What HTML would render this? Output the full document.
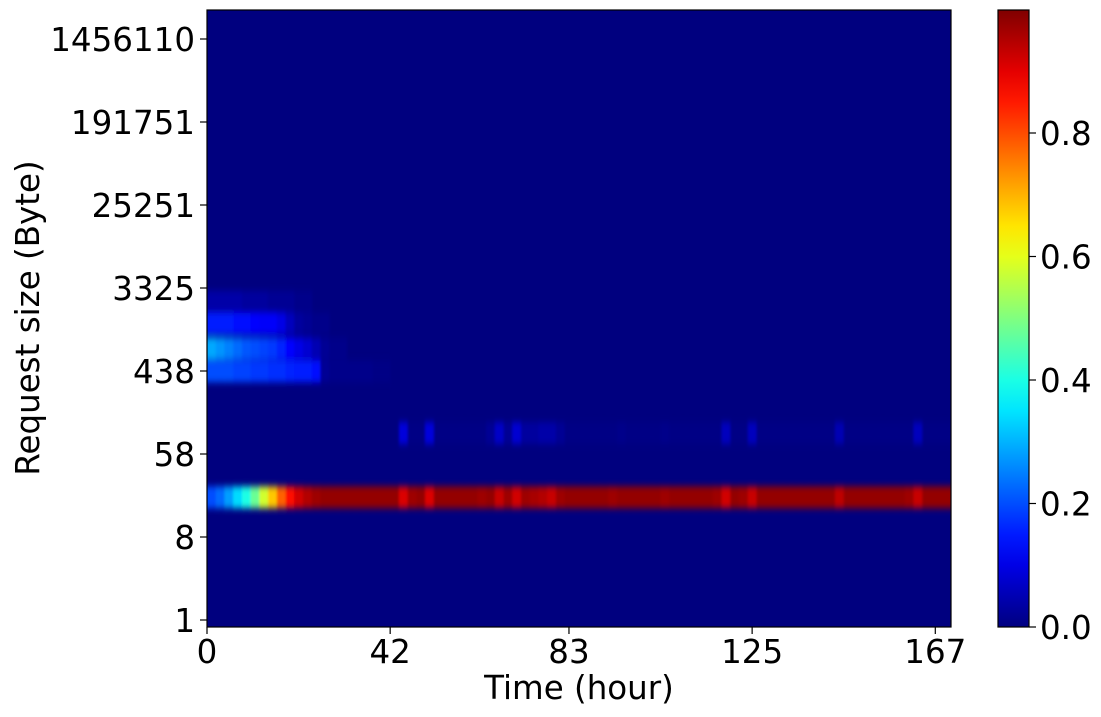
<!DOCTYPE html>
<html><head><meta charset="utf-8"><style>
html,body{margin:0;padding:0;background:#fff;}
svg{display:block;font-family:"DejaVu Sans","Liberation Sans",sans-serif;}
</style></head><body>
<svg id="chart" width="1101" height="717" viewBox="0 0 1101 717" xmlns="http://www.w3.org/2000/svg">
<defs>
<clipPath id="plotclip"><rect x="207" y="10" width="744" height="617"/></clipPath>
<filter id="blur" x="-10%" y="-10%" width="120%" height="120%"><feGaussianBlur stdDeviation="1.2 3.5"/></filter>
<linearGradient id="cbgrad" x1="0" y1="1" x2="0" y2="0"></linearGradient>
</defs>
<rect x="207" y="10" width="744" height="617" fill="rgb(0,0,127)"/>
<g id="cells" clip-path="url(#plotclip)"><g id="cellsInner" filter="url(#blur)"></g></g>
<rect x="207" y="10" width="744" height="617" fill="none" stroke="#000" stroke-width="1.2"/>
<g id="xaxis"></g><g id="yaxis"></g>
<text x="579" y="699" font-size="32.5" text-anchor="middle">Time (hour)</text>
<text transform="translate(39,318) rotate(-90)" font-size="32.5" text-anchor="middle">Request size (Byte)</text>
<rect x="998" y="10" width="31" height="617" fill="url(#cbgrad)"/>
<rect x="998" y="10" width="31" height="617" fill="none" stroke="#000" stroke-width="1.2"/>
<g id="cbaxis"></g>
</svg>
<script>
// ---- data ----
const timeBins = [0,2,4,6,8,10,12,14,16,18,20,22,24,26,28,30,32,34,36,38,40,42,44,46,48,50,52,54,56,58,60,62,64,66,68,70,72,74,76,78,80,82,84,86,88,90,92,94,96,98,100,102,104,106,108,110,112,114,116,118,120,122,124,126,128,130,132,134,136,138,140,142,144,146,148,150,152,154,156,158,160,162,164,166,168,170];
const sizeRows = [20, 96, 434, 757, 1390, 2370];
const row20 = [0.2,0.23,0.28,0.34,0.4,0.48,0.58,0.68,0.78,0.86,0.92,0.95,0.97,0.98,0.98,0.98,0.98,0.98,0.98,0.98,0.98,0.98,0.91,0.97,0.98,0.91,0.98,0.98,0.98,0.98,0.98,0.97,0.98,0.93,0.97,0.92,0.97,0.96,0.95,0.93,0.97,0.98,0.98,0.98,0.98,0.98,0.97,0.98,0.98,0.98,0.98,0.98,0.97,0.98,0.98,0.98,0.98,0.98,0.97,0.92,0.98,0.97,0.93,0.98,0.98,0.98,0.98,0.98,0.98,0.98,0.98,0.98,0.94,0.98,0.98,0.98,0.98,0.98,0.98,0.98,0.97,0.93,0.98,0.98,0.98,0.98];
const row96 = [0,0,0,0,0,0,0,0,0,0,0,0,0,0,0,0,0,0,0,0,0,0,0.09,0.005,0.005,0.09,0.005,0.005,0.005,0.005,0.005,0.005,0.02,0.07,0.02,0.08,0.03,0.03,0.04,0.04,0.02,0.005,0.005,0.005,0.005,0.005,0.005,0.01,0.005,0.005,0.005,0.005,0.01,0.005,0.005,0.005,0.005,0.005,0.005,0.06,0.005,0.005,0.06,0.005,0.005,0.005,0.005,0.005,0.005,0.005,0.005,0.005,0.05,0.005,0.005,0.005,0.005,0.005,0.005,0.005,0.005,0.06,0.005,0.005,0.005,0.005];
const row434 = [0.2,0.2,0.2,0.19,0.19,0.18,0.18,0.17,0.17,0.16,0.15,0.15,0.14,0.02,0.01,0.01,0.01,0.01,0.01,0.005,0.005,0,0,0,0,0,0,0,0,0,0,0,0,0,0,0,0,0,0,0,0,0,0,0,0,0,0,0,0,0,0,0,0,0,0,0,0,0,0,0,0,0,0,0,0,0,0,0,0,0,0,0,0,0,0,0,0,0,0,0,0,0,0,0,0,0];
const row757 = [0.29,0.27,0.25,0.23,0.21,0.2,0.19,0.18,0.16,0.13,0.1,0.08,0.05,0.02,0.01,0.01,0,0,0,0,0,0,0,0,0,0,0,0,0,0,0,0,0,0,0,0,0,0,0,0,0,0,0,0,0,0,0,0,0,0,0,0,0,0,0,0,0,0,0,0,0,0,0,0,0,0,0,0,0,0,0,0,0,0,0,0,0,0,0,0,0,0,0,0,0,0];
const row1390 = [0.15,0.15,0.15,0.14,0.14,0.13,0.12,0.12,0.1,0.06,0.03,0.02,0.01,0.01,0,0,0,0,0,0,0,0,0,0,0,0,0,0,0,0,0,0,0,0,0,0,0,0,0,0,0,0,0,0,0,0,0,0,0,0,0,0,0,0,0,0,0,0,0,0,0,0,0,0,0,0,0,0,0,0,0,0,0,0,0,0,0,0,0,0,0,0,0,0,0,0];
const row2370 = [0.04,0.04,0.04,0.04,0.03,0.03,0.03,0.02,0.02,0.02,0.01,0.01,0,0,0,0,0,0,0,0,0,0,0,0,0,0,0,0,0,0,0,0,0,0,0,0,0,0,0,0,0,0,0,0,0,0,0,0,0,0,0,0,0,0,0,0,0,0,0,0,0,0,0,0,0,0,0,0,0,0,0,0,0,0,0,0,0,0,0,0,0,0,0,0,0,0];
const rowValues = [row20, row96, row434, row757, row1390, row2370];
const xTicks = [0,42,83,125,167];
const yTickLabels = ["1","8","58","438","3325","25251","191751","1456110"];
const cbTicks = [0.0,0.2,0.4,0.6,0.8];
const binWidthHours = 2;
// ---- scales ----
const X0=207, X1=951, XMAX=170.6;
const xs = h => X0 + (X1-X0)*h/XMAX;
const LOGSTEP = Math.log(7.59);
const yIdx = k => 620 - 83*k;
const ys = v => yIdx(Math.log(v)/LOGSTEP);
const cbY = v => 627 - 617.5*v;
const cl = t => Math.max(0, Math.min(1, t));
function jet(v){
  const r=cl(1.5-Math.abs(4*v-3)), g=cl(1.5-Math.abs(4*v-2)), b=cl(1.5-Math.abs(4*v-1));
  return `rgb(${Math.round(r*255)},${Math.round(g*255)},${Math.round(b*255)})`;
}
const NS="http://www.w3.org/2000/svg";
function mk(tag, attrs, parent){const e=document.createElementNS(NS,tag);for(const k in attrs)e.setAttribute(k,attrs[k]);parent.appendChild(e);return e;}
// ---- cells ----
const cg=document.getElementById('cellsInner');
sizeRows.forEach((sz,ri)=>{
  const yc=ys(sz);
  rowValues[ri].forEach((val,ti)=>{
    if(val<=0) return;
    const h=timeBins[ti];
    let xa=xs(h), xb=xs(h+binWidthHours);
    if(ti===0) xa-=12;
    const r=mk('rect',{x:xa,y:yc-11,width:xb-xa+0.6,height:22,fill:jet(val)},cg);
    
    
  });
});
// ---- x axis ----
const xg=document.getElementById('xaxis');
xTicks.forEach(t=>{
  const x=xs(t);
  const l=mk('line',{x1:x,y1:627,x2:x,y2:634,stroke:'#000','stroke-width':1.2},xg);
  
  
  const tx=mk('text',{x:x,y:663,'font-size':32.5,'text-anchor':'middle'},xg);
  tx.textContent=t;
  
  
});
// ---- y axis ----
const yg=document.getElementById('yaxis');
yTickLabels.forEach((lab,k)=>{
  const y=yIdx(k);
  const l=mk('line',{x1:200,y1:y,x2:207,y2:y,stroke:'#000','stroke-width':1.2},yg);
  
  
  const tx=mk('text',{x:195,y:y+12,'font-size':32.5,'text-anchor':'end'},yg);
  tx.textContent=lab;
  
  
});
// ---- colorbar ----
const grad=document.getElementById('cbgrad');
for(let i=0;i<=20;i++){const v=i/20;mk('stop',{offset:v,'stop-color':jet(v)},grad);}
const cb=document.getElementById('cbaxis');
cbTicks.forEach(t=>{
  const y=cbY(t);
  const l=mk('line',{x1:1029,y1:y,x2:1036,y2:y,stroke:'#000','stroke-width':1.2},cb);
  
  
  const tx=mk('text',{x:1040,y:y+12,'font-size':32.5},cb);
  tx.textContent=t.toFixed(1);
  
  
});
</script>
</body></html>
